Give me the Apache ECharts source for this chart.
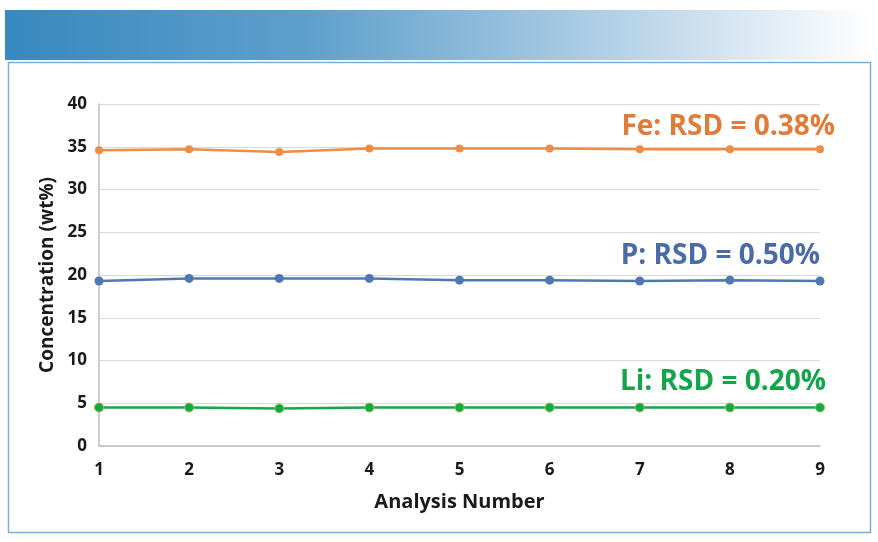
<!DOCTYPE html>
<html><head><meta charset="utf-8">
<script src="https://cdn.jsdelivr.net/npm/echarts@6/dist/echarts.min.js"></script>
<style>html,body{margin:0;padding:0;background:#fff}#c{width:878px;height:542px}</style>
</head><body><div id="c"></div>
<script>
const categories = ['1','2','3','4','5','6','7','8','9'];
const feValues = [34.6, 34.7, 34.4, 34.8, 34.8, 34.8, 34.7, 34.7, 34.7];
const pValues  = [19.3, 19.6, 19.6, 19.6, 19.4, 19.4, 19.3, 19.4, 19.3];
const liValues = [4.5, 4.5, 4.4, 4.5, 4.5, 4.5, 4.5, 4.5, 4.5];
const yTicks = [0, 40, 5];
const labels = ['Fe: RSD = 0.38%', 'P: RSD = 0.50%', 'Li: RSD = 0.20%'];

const chart = echarts.init(document.getElementById('c'));
const FONT = '"Open Sans", "Noto Sans", sans-serif';
chart.setOption({
  animation: false,
  backgroundColor: '#fff',
  grid: { left: 99, right: 58, top: 104, bottom: 96 },
  xAxis: {
    type: 'category', data: categories, boundaryGap: false,
    name: 'Analysis Number', nameLocation: 'middle', nameGap: 46,
    nameTextStyle: { fontFamily: FONT, fontSize: 20, fontWeight: 'bold', color: '#1a1a1a' },
    axisLine: { lineStyle: { color: '#bfbfbf', width: 1.5 } },
    axisTick: { show: false },
    axisLabel: { fontFamily: FONT, fontSize: 17, fontWeight: 'bold', color: '#1a1a1a', margin: 16 },
    splitLine: { show: false }
  },
  yAxis: {
    type: 'value', min: yTicks[0], max: yTicks[1], interval: yTicks[2],
    name: 'Concentration (wt%)', nameLocation: 'middle', nameGap: 40,
    nameTextStyle: { fontFamily: FONT, fontSize: 19, fontWeight: 'bold', color: '#1a1a1a' },
    axisLine: { show: true, lineStyle: { color: '#bfbfbf', width: 1.5 } },
    axisTick: { show: false },
    axisLabel: { fontFamily: FONT, fontSize: 17, fontWeight: 'bold', color: '#1a1a1a', margin: 12 },
    splitLine: { lineStyle: { color: '#d9d9d9', width: 1.2 } }
  },
  series: [
    { name: 'Fe', type: 'line', data: feValues, symbol: 'circle', symbolSize: 8,
      lineStyle: { color: '#ED8E48', width: 2.5 }, itemStyle: { color: '#ED8E48' } },
    { name: 'P', type: 'line', data: pValues, symbol: 'circle', symbolSize: 9,
      lineStyle: { color: '#4F78B3', width: 2.5 }, itemStyle: { color: '#4F78B3' } },
    { name: 'Li', type: 'line', data: liValues, symbol: 'circle', symbolSize: 9,
      lineStyle: { color: '#14A84A', width: 2.5 }, itemStyle: { color: '#14A84A', borderColor: '#9BC53D', borderWidth: 1 } }
  ],
  graphic: [
    { type: 'rect', left: 5, top: 10, z: -10, silent: true,
      shape: { width: 866, height: 50 },
      style: { fill: new echarts.graphic.LinearGradient(0, 0, 1, 0, [
        { offset: 0, color: '#3789C0' },
        { offset: 0.35, color: '#5EA0CC' },
        { offset: 0.65, color: '#A6C9E2' },
        { offset: 1, color: '#FFFFFF' }
      ]) } },
    { type: 'rect', left: 6, top: 60, z: -10, silent: true,
      shape: { width: 862, height: 470 },
      style: { fill: 'none', stroke: '#7AAFD8', lineWidth: 1.5 } },
    { type: 'text', right: 43, top: 113, style: { text: labels[0], fill: '#E07B39', font: 'bold 28px ' + FONT, textAlign: 'right' } },
    { type: 'text', right: 58, top: 242, style: { text: labels[1], fill: '#4A6BA8', font: 'bold 28px ' + FONT, textAlign: 'right' } },
    { type: 'text', right: 52, top: 368, style: { text: labels[2], fill: '#12A64A', font: 'bold 28px ' + FONT, textAlign: 'right' } }
  ]
});
</script></body></html>
